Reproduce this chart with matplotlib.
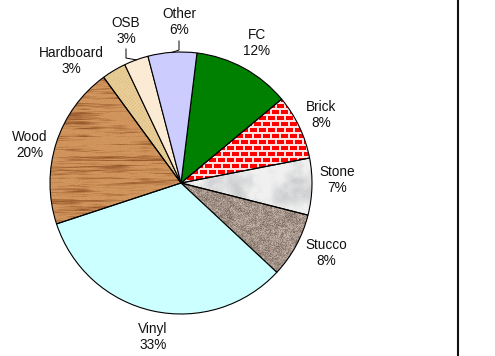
import numpy as np
import matplotlib
matplotlib.use("Agg")
import matplotlib.pyplot as plt

# Market share of siding materials
materials = ["FC", "Brick", "Stone", "Stucco", "Vinyl", "Wood", "Hardboard", "OSB", "Other"]
shares = [12, 8, 7, 8, 33, 20, 3, 3, 6]

# label anchor points (pixels from top-left)
label_x = [257, 321, 337, 326, 153, 30, 71, 126, 179]
label_y = [43, 115, 180, 253, 337, 145, 61, 31, 22]

W, H = 495, 356
plt.rcParams["font.family"] = ["Liberation Sans", "DejaVu Sans"]

fig = plt.figure(figsize=(W / 100, H / 100), dpi=100)
ax = fig.add_axes([0, 0, 1, 1])

cx, cy, r = 181, H - 183, 131

plain = {"FC": "#008000", "Vinyl": "#CCFFFF", "Other": "#CCCCFF", "OSB": "#FCEBD4"}
face = [plain.get(m, "none") for m in materials]

wedges, _ = ax.pie(shares, startangle=83, counterclock=False, center=(cx, cy),
                   radius=r, colors=face, frame=True,
                   wedgeprops=dict(edgecolor="black", linewidth=0.8))
for w in wedges:
    w.set_zorder(2)

rng = np.random.default_rng(7)
yy, xx = np.mgrid[0:H, 0:W].astype(float)


def smooth_noise(cell_x, cell_y=None):
    """Bilinear-upsampled random field with feature size in pixels."""
    cell_y = cell_x if cell_y is None else cell_y
    gh, gw = int(H / cell_y) + 2, int(W / cell_x) + 2
    g = rng.random((gh, gw))
    gy = yy / cell_y
    gx = xx / cell_x
    y0 = np.floor(gy).astype(int)
    x0 = np.floor(gx).astype(int)
    fy = gy - y0
    fx = gx - x0
    a = g[y0, x0] * (1 - fx) + g[y0, x0 + 1] * fx
    b = g[y0 + 1, x0] * (1 - fx) + g[y0 + 1, x0 + 1] * fx
    return a * (1 - fy) + b * fy


def mix(c1, c2, t):
    c1 = np.array(c1, float) / 255
    c2 = np.array(c2, float) / 255
    t = np.clip(t, 0, 1)[..., None]
    return c1 * (1 - t) + c2 * t


textures = {}

# wood grain: long thin horizontal streaks
grain = 0.65 * smooth_noise(40, 1.6) + 0.35 * smooth_noise(12, 1.0)
grain = np.clip((grain - 0.45) * 2.2, 0, 1)
textures["Wood"] = mix((212, 152, 96), (150, 88, 42), grain + 0.12 * rng.random((H, W)))

# hardboard: pale tan with fine weave
weave = 0.5 + 0.25 * np.sin(xx * 1.9) * np.sin(yy * 1.7) + 0.25 * rng.random((H, W))
textures["Hardboard"] = mix((244, 222, 175), (222, 190, 130), weave)

# brick courses with light mortar
course_h, brick_w = 6, 9
course = (yy // course_h).astype(int)
shift = (course % 2) * (brick_w // 2)
mortar = ((yy % course_h) < 1.6) | (((xx + shift) % brick_w) < 1.6)
brick = np.zeros((H, W, 3))
brick[:] = np.array([255, 0, 0]) / 255
brick[mortar] = np.array([255, 225, 225]) / 255
textures["Brick"] = brick

# stone: mottled light marble
marble = 0.6 * smooth_noise(14) + 0.3 * smooth_noise(5) + 0.1 * rng.random((H, W))
textures["Stone"] = mix((240, 240, 240), (185, 187, 190), (marble - 0.35) * 1.3)

# stucco: coarse speckle
speck = 0.5 * rng.random((H, W)) + 0.3 * smooth_noise(3) + 0.2 * rng.random((H, W))
textures["Stucco"] = mix((215, 200, 190), (110, 92, 82), speck)

for m, w in zip(materials, wedges):
    if m in textures:
        im = ax.imshow(textures[m], extent=(0, W, 0, H), origin="upper",
                       interpolation="nearest", zorder=1)
        im.set_clip_path(w)

# labels
for m, s, lx, ly in zip(materials, shares, label_x, label_y):
    ax.text(lx, H - ly, f"{m}\n{s}%", ha="center", va="center",
            fontsize=9.8, linespacing=1.25, color="#111111", zorder=3)

# leader lines for the two narrow slices at the top
def edge_point(w):
    mid = np.deg2rad((w.theta1 + w.theta2) / 2)
    return cx + r * np.cos(mid), cy + r * np.sin(mid)

for m, top, bend in (("OSB", 49, 58), ("Other", 41, 50)):
    i = materials.index(m)
    ex, ey = edge_point(wedges[i])
    lx = label_x[i]
    ax.plot([lx, lx, ex], [H - top, H - bend, ey], color="black", lw=0.7, zorder=3)

# panel divider on the right
ax.plot([457.5, 457.5], [0, H], color="#111111", lw=1.5, zorder=3)

ax.set_xlim(0, W)
ax.set_ylim(0, H)
ax.set_aspect("equal")
ax.axis("off")

fig.savefig("out.png", dpi=100, facecolor="white")
